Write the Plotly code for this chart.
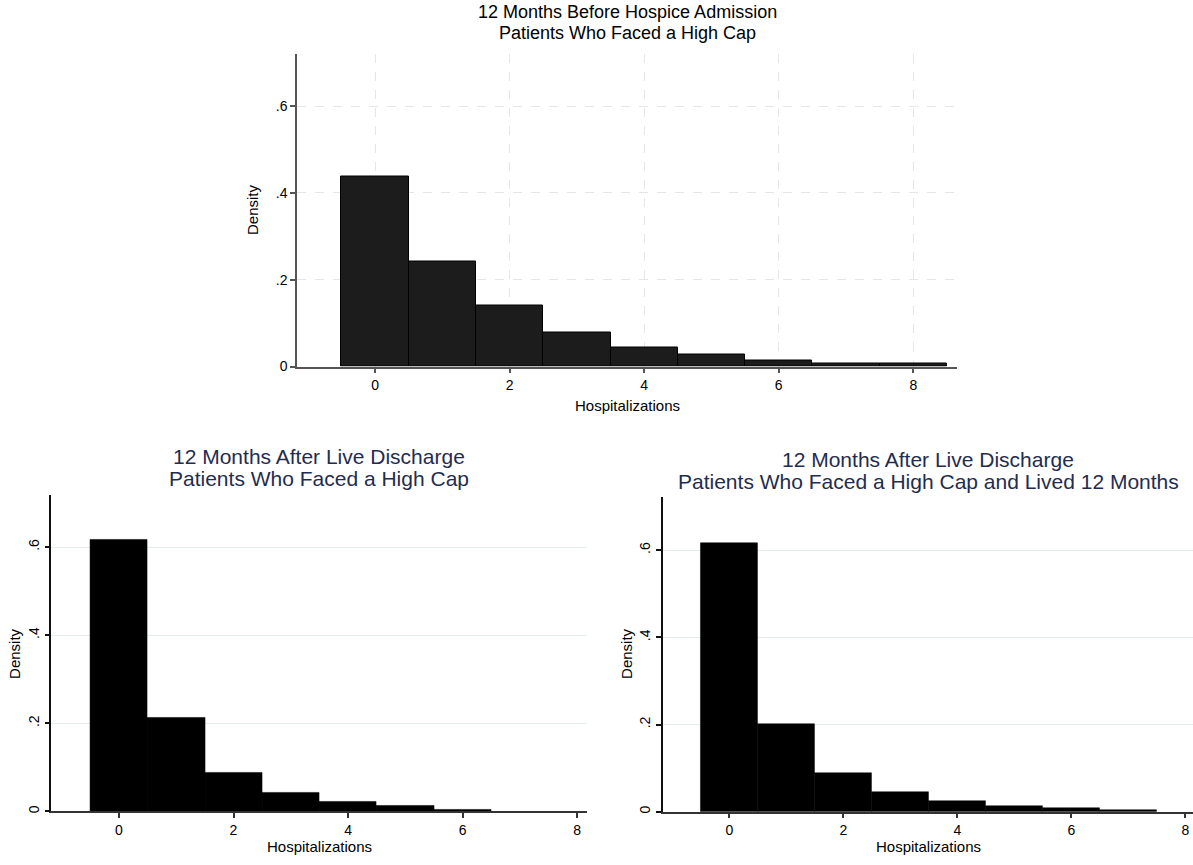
import plotly.graph_objects as go

W, H = 1193, 865

# ---- data ----
hosp_top = [0, 1, 2, 3, 4, 5, 6, 7, 8]
dens_top = [0.438, 0.241, 0.141, 0.079, 0.045, 0.027, 0.015, 0.008, 0.006]

hosp_bl = [0, 1, 2, 3, 4, 5, 6]
dens_bl = [0.616, 0.213, 0.089, 0.042, 0.022, 0.012, 0.005]

hosp_br = [0, 1, 2, 3, 4, 5, 6, 7]
dens_br = [0.617, 0.201, 0.089, 0.044, 0.024, 0.012, 0.008, 0.003]

x_ticks = [0, 2, 4, 6, 8]
x_ticklabels = ["0", "2", "4", "6", "8"]
y_ticks = [0, 0.2, 0.4, 0.6]
y_ticklabels = ["0", ".2", ".4", ".6"]

title_top = ["12 Months Before Hospice Admission", "Patients Who Faced a High Cap"]
title_bl = ["12 Months After Live Discharge", "Patients Who Faced a High Cap"]
title_br = ["12 Months After Live Discharge", "Patients Who Faced a High Cap and Lived 12 Months"]

FONT = "Liberation Sans, Arial, Helvetica, sans-serif"
NAVY = "#1f2d50"

def px_x(p):
    return p / W

def px_y(p):
    return 1 - p / H

fig = go.Figure()

fig.add_trace(go.Bar(x=hosp_top, y=dens_top, width=1, xaxis="x", yaxis="y",
                     marker=dict(color="#1c1c1c", line=dict(color="#000000", width=1)),
                     showlegend=False))
fig.add_trace(go.Bar(x=hosp_bl, y=dens_bl, width=1, xaxis="x2", yaxis="y2",
                     marker=dict(color="#000000", line=dict(color="#000000", width=0.5)),
                     showlegend=False))
fig.add_trace(go.Bar(x=hosp_br, y=dens_br, width=1, xaxis="x3", yaxis="y3",
                     marker=dict(color="#000000", line=dict(color="#000000", width=0.5)),
                     showlegend=False))

tickfont = dict(family=FONT, size=14, color="#000000")

def xaxis(domain, rng, anchor, grid, griddash, linecolor):
    return dict(domain=domain, range=rng, anchor=anchor, tickvals=x_ticks, ticktext=x_ticklabels,
                showgrid=grid, gridcolor="#e6e6e6", griddash=griddash, gridwidth=1,
                showline=True, linecolor=linecolor, linewidth=1.5, ticks="outside", ticklen=5,
                tickcolor=linecolor, tickwidth=1.5, tickfont=tickfont, zeroline=False, fixedrange=True)

def yaxis(domain, rng, anchor, gridcolor, griddash, tickangle, linecolor):
    return dict(domain=domain, range=rng, anchor=anchor, tickvals=y_ticks, ticktext=y_ticklabels,
                showgrid=True, gridcolor=gridcolor, griddash=griddash, gridwidth=1,
                showline=True, linecolor=linecolor, linewidth=1.5, ticks="outside", ticklen=5,
                tickcolor=linecolor, tickwidth=1.5, tickfont=tickfont, tickangle=tickangle,
                zeroline=False, fixedrange=True)

fig.update_layout(
    width=W, height=H,
    margin=dict(l=0, r=0, t=0, b=0),
    paper_bgcolor="white", plot_bgcolor="white",
    bargap=0,
    font=dict(family=FONT),
    xaxis=xaxis([px_x(297), px_x(957)], [-1.16, 8.65], "y", True, "dash", "#555555"),
    yaxis=yaxis([px_y(370), px_y(54)], [0, 0.721], "x", "#e6e6e6", "dash", 0, "#555555"),
    xaxis2=xaxis([px_x(51.3), px_x(587)], [-1.18, 8.17], "y2", False, "solid", "#333333"),
    yaxis2=yaxis([px_y(819), px_y(499.3)], [0, 0.719], "x2", "#e4ecee", "solid", -90, "#111111"),
    xaxis3=xaxis([px_x(662.7), 1.0], [-1.17, 8.135], "y3", False, "solid", "#333333"),
    yaxis3=yaxis([px_y(819.3), px_y(501.7)], [0, 0.722], "x3", "#e4ecee", "solid", -90, "#111111"),
)

ann = []
def add_text(text, x, y, size, color="#000000", angle=0):
    ann.append(dict(text=text, x=px_x(x), y=px_y(y), xref="paper", yref="paper",
                    xanchor="center", yanchor="middle", showarrow=False, textangle=angle,
                    font=dict(family=FONT, size=size, color=color)))

# titles
add_text(title_top[0], 627, 12, 18)
add_text(title_top[1], 627, 33, 18)
add_text(title_bl[0], 319, 461, 21, NAVY)
add_text(title_bl[1], 319, 483, 21, NAVY)
add_text(title_br[0], 928, 464, 21, NAVY)
add_text(title_br[1], 928, 486, 21, NAVY)

# axis titles
add_text("Hospitalizations", 627, 409, 15)
add_text("Density", 252, 212, 15, angle=-90)
add_text("Hospitalizations", 319, 854, 15)
add_text("Density", 15, 659, 15, angle=-90)
add_text("Hospitalizations", 928, 854, 15)
add_text("Density", 627, 660, 15, angle=-90)

fig.update_layout(annotations=ann)

fig.write_html("out.html")
